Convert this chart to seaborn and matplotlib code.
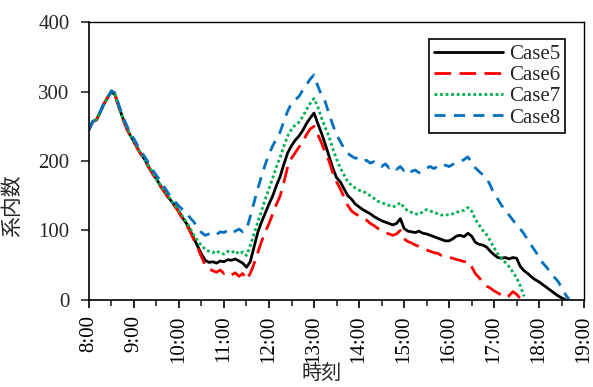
import numpy as np
import pandas as pd
import matplotlib
matplotlib.use("Agg")
import matplotlib.pyplot as plt
import seaborn as sns
from matplotlib.ticker import MultipleLocator

# time grid: minutes after 8:00, every 5 minutes (8:00 .. 19:00)
minutes = np.arange(0, 665, 5)
nan = np.nan

case5 = [245, 257, 259, 270, 282, 291, 300, 295, 278, 262, 248, 237,
         228, 218, 209, 201, 191, 182, 174, 165, 157, 149, 142, 135,
         127, 118, 110, 100, 88, 77, 66, 57, 54, 55, 53, 56,
         55, 58, 57, 59, 56, 53, 47, 55, 76, 97, 112, 125,
         138, 150, 165, 178, 196, 212, 222, 230, 236, 244, 254, 262,
         269, 254, 240, 224, 207, 190, 176, 170, 160, 150, 145, 138,
         134, 130, 127, 124, 120, 117, 114, 112, 110, 108, 110, 117,
         103, 99, 98, 97, 99, 96, 95, 93, 91, 89, 87, 85,
         85, 88, 92, 93, 91, 96, 92, 83, 80, 79, 76, 70,
         65, 61, 60, 61, 59, 61, 60, 48, 42, 38, 33, 29,
         26, 22, 18, 14, 10, 6, 3, 0.5, nan, nan, nan, nan, nan]

case6 = [245, 256, 260, 271, 283, 292, 300, 294, 277, 261, 247, 236,
         227, 217, 208, 200, 190, 181, 173, 164, 156, 148, 141, 134,
         126, 116, 108, 98, 86, 75, 62, 50, 45, 42, 40, 43,
         38, 40, 36, 39, 34, 38, 29, 38, 52, 68, 84, 98,
         110, 124, 138, 150, 170, 192, 204, 212, 220, 228, 238, 246,
         250, 238, 226, 212, 200, 183, 170, 160, 148, 136, 128, 124,
         121, 117, 115, 110, 107, 103, 100, 97, 95, 93, 95, 100,
         88, 84, 82, 79, 77, 74, 72, 70, 68, 67, 64, 62,
         61, 60, 58, 57, 55, 56, 48, 38, 32, 26, 20, 17,
         13, 10, 7, 3, 6, 12, 8, 2, nan, nan, nan, nan,
         nan, nan, nan, nan, nan, nan, nan, nan, nan, nan, nan, nan, nan]

case7 = [245, 257, 260, 271, 282, 292, 301, 295, 278, 262, 249, 237,
         229, 218, 210, 201, 192, 183, 174, 166, 158, 150, 143, 136,
         129, 120, 112, 103, 93, 85, 78, 73, 70, 68, 71, 67,
         66, 70, 68, 71, 66, 69, 64, 78, 95, 112, 128, 145,
         160, 176, 192, 206, 222, 236, 246, 252, 256, 264, 274, 283,
         290, 278, 262, 248, 235, 218, 203, 190, 180, 170, 165, 161,
         158, 156, 154, 150, 146, 142, 140, 138, 136, 134, 136, 140,
         133, 128, 126, 124, 123, 127, 130, 128, 126, 124, 122, 123,
         122, 124, 126, 128, 129, 133, 128, 116, 108, 100, 94, 85,
         75, 66, 60, 54, 48, 40, 32, 20, 5, nan, nan, nan,
         nan, nan, nan, nan, nan, nan, nan, nan, nan, nan, nan, nan, nan]

case8 = [245, 257, 260, 271, 283, 292, 301, 298, 280, 265, 252, 240,
         232, 222, 213, 205, 196, 187, 179, 172, 163, 155, 147, 141,
         135, 130, 125, 118, 112, 104, 97, 93, 95, 97, 94, 98,
         97, 100, 96, 99, 102, 98, 101, 120, 140, 160, 178, 195,
         210, 222, 232, 242, 258, 272, 283, 288, 293, 302, 310, 318,
         324, 308, 295, 285, 268, 252, 238, 228, 218, 211, 207, 204,
         205, 200, 201, 197, 199, 194, 192, 196, 190, 193, 188, 192,
         186, 190, 185, 187, 183, 188, 190, 192, 189, 193, 191, 194,
         192, 195, 198, 199, 202, 206, 198, 190, 185, 180, 175, 165,
         152, 145, 136, 130, 122, 115, 108, 102, 95, 86, 78, 70,
         62, 53, 47, 40, 33, 27, 18, 8, 0.5, nan, nan, nan, nan]

series_names = ["Case5", "Case6", "Case7", "Case8"]
series_values = [case5, case6, case7, case8]
xtick_hours = list(range(8, 20))
xtick_labels = [f"{h}:00" for h in xtick_hours]

frames = []
for name, vals in zip(series_names, series_values):
    frames.append(pd.DataFrame({"t": 8 + minutes / 60.0, "v": vals, "case": name}))
df = pd.concat(frames, ignore_index=True)

sns.set_theme(style="ticks")
plt.rcParams["font.family"] = ["Liberation Serif", "Noto Sans CJK JP"]
plt.rcParams["axes.linewidth"] = 1.2

fig = plt.figure(figsize=(5.93, 3.87), dpi=100)
ax = fig.add_axes([0.150, 0.225, 0.835, 0.718])

palette = {"Case5": "#000000", "Case6": "#FF0000", "Case7": "#00B050", "Case8": "#0070C0"}
dashes = {"Case5": "", "Case6": (6, 3), "Case7": (1, 1), "Case8": (4, 3)}

sns.lineplot(data=df, x="t", y="v", hue="case", style="case",
             palette=palette, dashes=dashes, estimator=None, sort=True,
             linewidth=2.0, ax=ax, hue_order=series_names, style_order=series_names)

ax.set_xlim(8, 19)
ax.set_ylim(0, 400)
ax.set_xticks(xtick_hours)
ax.set_xticklabels(xtick_labels)
ax.xaxis.set_minor_locator(MultipleLocator(0.5))
ax.yaxis.set_major_locator(MultipleLocator(100))
ax.tick_params(axis="x", which="major", length=6, width=1.2, direction="out",
               labelsize=15, labelrotation=90, pad=5, colors="black")
ax.tick_params(axis="x", which="minor", length=4, width=1.2, direction="out")
ax.tick_params(axis="y", which="major", length=6, width=1.2, direction="out",
               labelsize=15, pad=8)
for sp in ax.spines.values():
    sp.set_color("black")
ax.spines["top"].set_linewidth(1.0)
ax.spines["right"].set_linewidth(1.0)

ax.set_xlabel("時刻", fontsize=14.5, family=["Noto Sans CJK JP"])
ax.set_ylabel("系内数", fontsize=15, family=["Noto Sans CJK JP"])
ax.xaxis.set_label_coords(0.47, -0.228)
ax.yaxis.set_label_coords(-0.133, 0.34)

leg = ax.legend(loc="upper right", bbox_to_anchor=(0.962, 0.939), borderaxespad=0,
                fontsize=15, handlelength=3.3, handletextpad=0.3,
                labelspacing=0.08, borderpad=0.25, fancybox=False, framealpha=1)
leg.get_frame().set_edgecolor("black")
leg.get_frame().set_linewidth(1.2)
for line in leg.get_lines():
    line.set_linewidth(2.0)

fig.savefig("out.png", dpi=100)
